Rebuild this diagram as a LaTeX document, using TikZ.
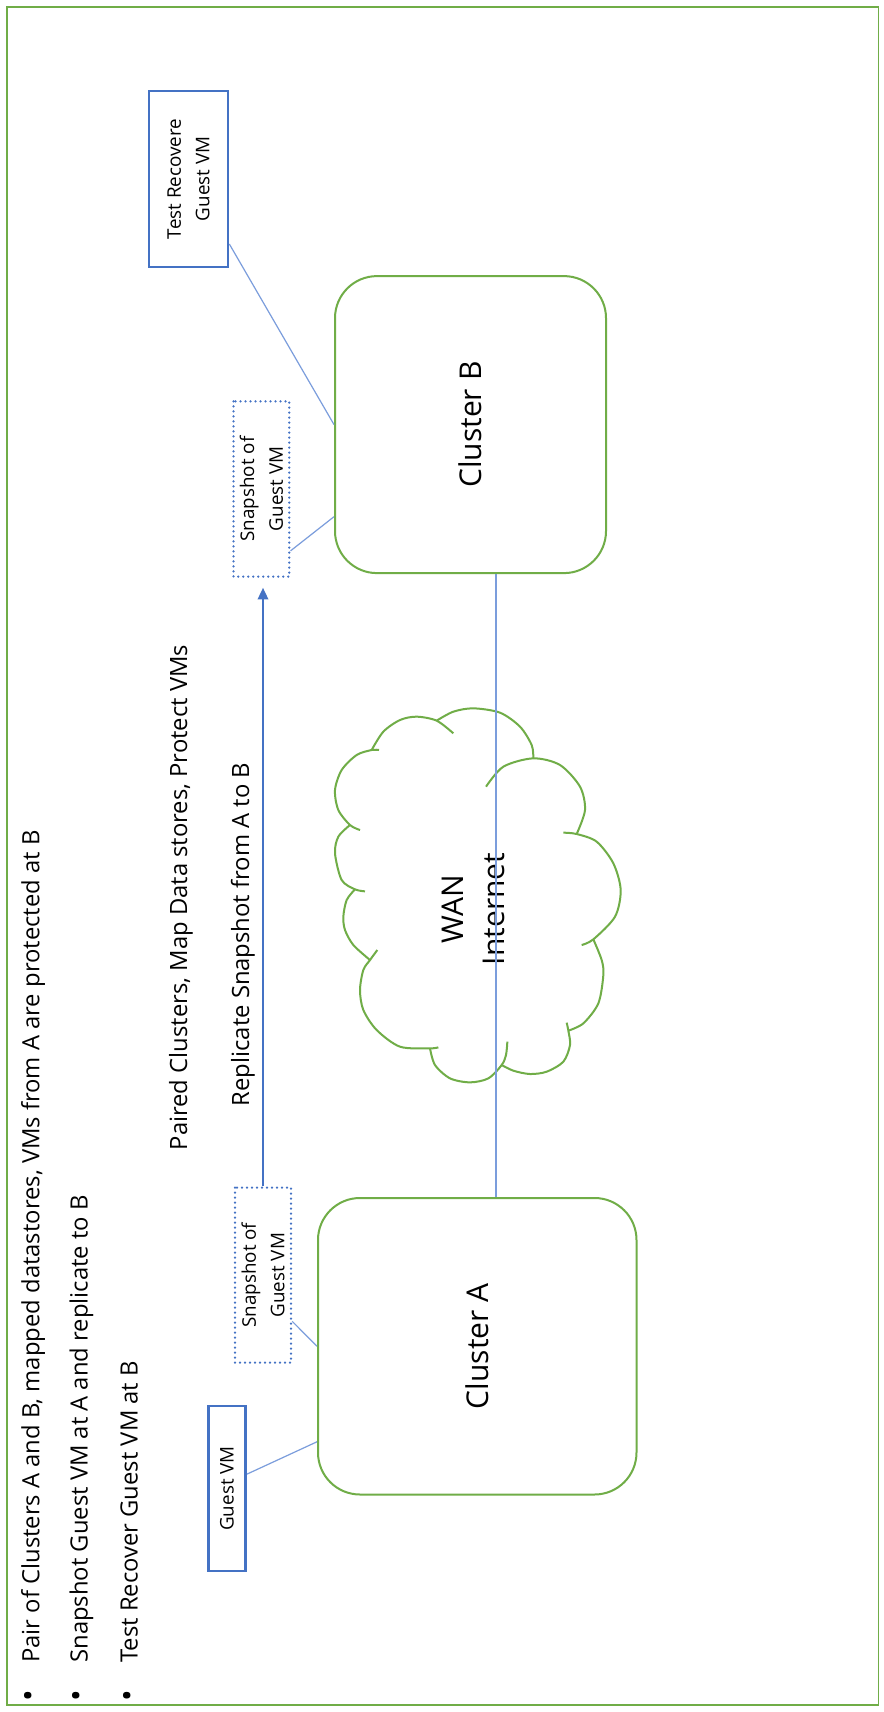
\documentclass[tikz,border=0pt]{standalone}
\usepackage{fontspec}
\setmainfont{Open Sans}
\usepackage{graphicx}
\usetikzlibrary{calc,arrows.meta}
\definecolor{grn}{HTML}{70AD47}
\definecolor{blu}{HTML}{4472C4}
\definecolor{lnk}{HTML}{7B9DDC}
\begin{document}
\begin{tikzpicture}[x=0.5pt, y=-0.5pt,
  frame/.style={draw=grn, line width=0.85pt},
  cluster/.style={draw=grn, line width=1pt, rounded corners=21pt, inner sep=0pt,
    font=\fontsize{15}{18}\selectfont},
  vmbox/.style={draw=blu, line width=1.35pt, inner sep=0pt, rotate=90, align=center,
    font=\fontsize{9.4}{14.3}\selectfont},
  snapbox/.style={draw=blu, line width=1.25pt, dash pattern=on 0pt off 2.5pt,
    line cap=round, inner sep=0pt, rotate=90, align=center,
    font=\fontsize{9.4}{14.3}\selectfont},
  link/.style={draw=lnk, line width=0.6pt},
  flow/.style={draw=blu, line width=0.8pt, -{Triangle[length=5.8pt,width=5.3pt]}},
  note/.style={font=\fontsize{11.9}{14}\selectfont, inner sep=0pt, rotate=90},
  dot/.style={font=\fontsize{15.5}{15.5}\selectfont, inner sep=0pt, rotate=90},
  puff/.style={draw=grn, line width=1pt}]

% page and outer frame
\fill[white] (0,0) rectangle (883,1712);
\useasboundingbox (0,0) rectangle (883,1712);
\draw[frame] (7,7) rectangle (878.5,1705);

% bullet list
\node[dot] (d1) at (32.4,1696) {•};
\node[dot] (d2) at (80.4,1696) {•};
\node[dot] (d3) at (131.4,1696) {•};
\node[note, anchor=base west] (b1) at (39.5,1663)
  {Pair of Clusters A and B, mapped datastores, VMs from A are protected at B};
\node[note, anchor=base west] (b2) at (87.5,1663)
  {Snapshot Guest VM at A and replicate to B};
\node[note, anchor=base west] (b3) at (137.5,1663)
  {Test Recover Guest VM at B};

% captions along the replication path
\node[note, anchor=base] (paired) at (187,897.5) {Paired Clusters, Map Data stores, Protect VMs};
\node[note, anchor=base] (repl) at (249,934.5) {Replicate Snapshot from A to B};

% clusters
\node[cluster, minimum width=135.5pt, minimum height=148.5pt] (clB) at (470.5,424.6)
  {\rotatebox{90}{Cluster B}};
\node[cluster, minimum width=159.25pt, minimum height=148.25pt] (clA) at (477.25,1346.25)
  {\rotatebox{90}{Cluster A}};

% virtual machine boxes (turned a quarter turn, so east is the top edge)
\node[vmbox, minimum width=88pt, minimum height=39.5pt] (tr) at (188.5,179)
  {Test Recovere\\Guest VM};
\node[snapbox, minimum width=87.6pt, minimum height=27.9pt] (snB) at (261.4,489)
  {Snapshot of\\Guest VM};
\node[snapbox, minimum width=87.5pt, minimum height=28pt] (snA) at (263,1275.2)
  {Snapshot of\\Guest VM};
\node[vmbox, minimum width=82.5pt, minimum height=18.7pt] (gv) at (227,1488.5)
  {Guest VM};

% WAN cloud
\begin{scope}[shift={(300,650)}, x=0.166667pt, y=-0.166667pt]
  \draw[puff] plot[smooth] coordinates {(180,540) (150,525) (115,480) (105,420) (125,360) (170,315) (215,300) (237,300)};
  \draw[puff] plot[smooth] coordinates {(215,300) (250,245) (300,210) (350,200) (410,212) (460,250)};
  \draw[puff] plot[smooth] coordinates {(410,212) (460,185) (520,175) (600,188) (660,230) (695,285) (700,325)};
  \draw[puff] plot[smooth] coordinates {(558,410) (610,350) (700,325) (780,345) (840,410) (855,480) (830,552)};
  \draw[puff] plot[smooth] coordinates {(790,548) (830,552) (890,575) (940,640) (962,720) (945,800) (880,868) (845,885)};
  \draw[puff] plot[smooth] coordinates {(880,868) (905,930) (910,975) (895,1060) (850,1120) (805,1142)};
  \draw[puff] plot[smooth] coordinates {(800,1118) (805,1142) (810,1185) (790,1235) (740,1265) (690,1272) (640,1262) (605,1245)};
  \draw[puff] plot[smooth] coordinates {(622,1175) (618,1215) (605,1245) (565,1285) (510,1297) (450,1285) (405,1245) (390,1195)};
  \draw[puff] plot[smooth] coordinates {(415,1192) (390,1195) (300,1190) (230,1140) (190,1080) (180,1020) (190,960) (210,930) (232,900)};
  \draw[puff] plot[smooth] coordinates {(210,930) (160,885) (135,840) (130,800) (140,750) (165,718)};
  \draw[puff] plot[smooth] coordinates {(195,724) (165,718) (125,690) (105,610) (115,560) (150,525)};
\end{scope}
\node[font=\fontsize{15}{20.8}\selectfont, align=center, rotate=90, inner sep=0pt] (wantxt)
  at (473.5,909) {WAN\\Internet};

% connectors
\coordinate (wan) at (496,895);
\draw[link] (wan |- clB.south) -- (wan |- clA.north);
\draw[link] ($(tr.south east)!0.864!(tr.south west)$) -- (clB.west);
\draw[link] ($(snB.south east)!0.848!(snB.south west)$) -- ($(clB.north west)!0.808!(clB.south west)$);
\draw[link] ($(snA.south east)!0.76!(snA.south west)$) -- (clA.west);
\draw[link] ($(gv.south east)!0.414!(gv.south west)$) -- ($(clA.north west)!0.82!(clA.south west)$);
\draw[flow, shorten >=5pt] (snA.east) -- (snA.east |- snB.west);

\end{tikzpicture}
\end{document}
